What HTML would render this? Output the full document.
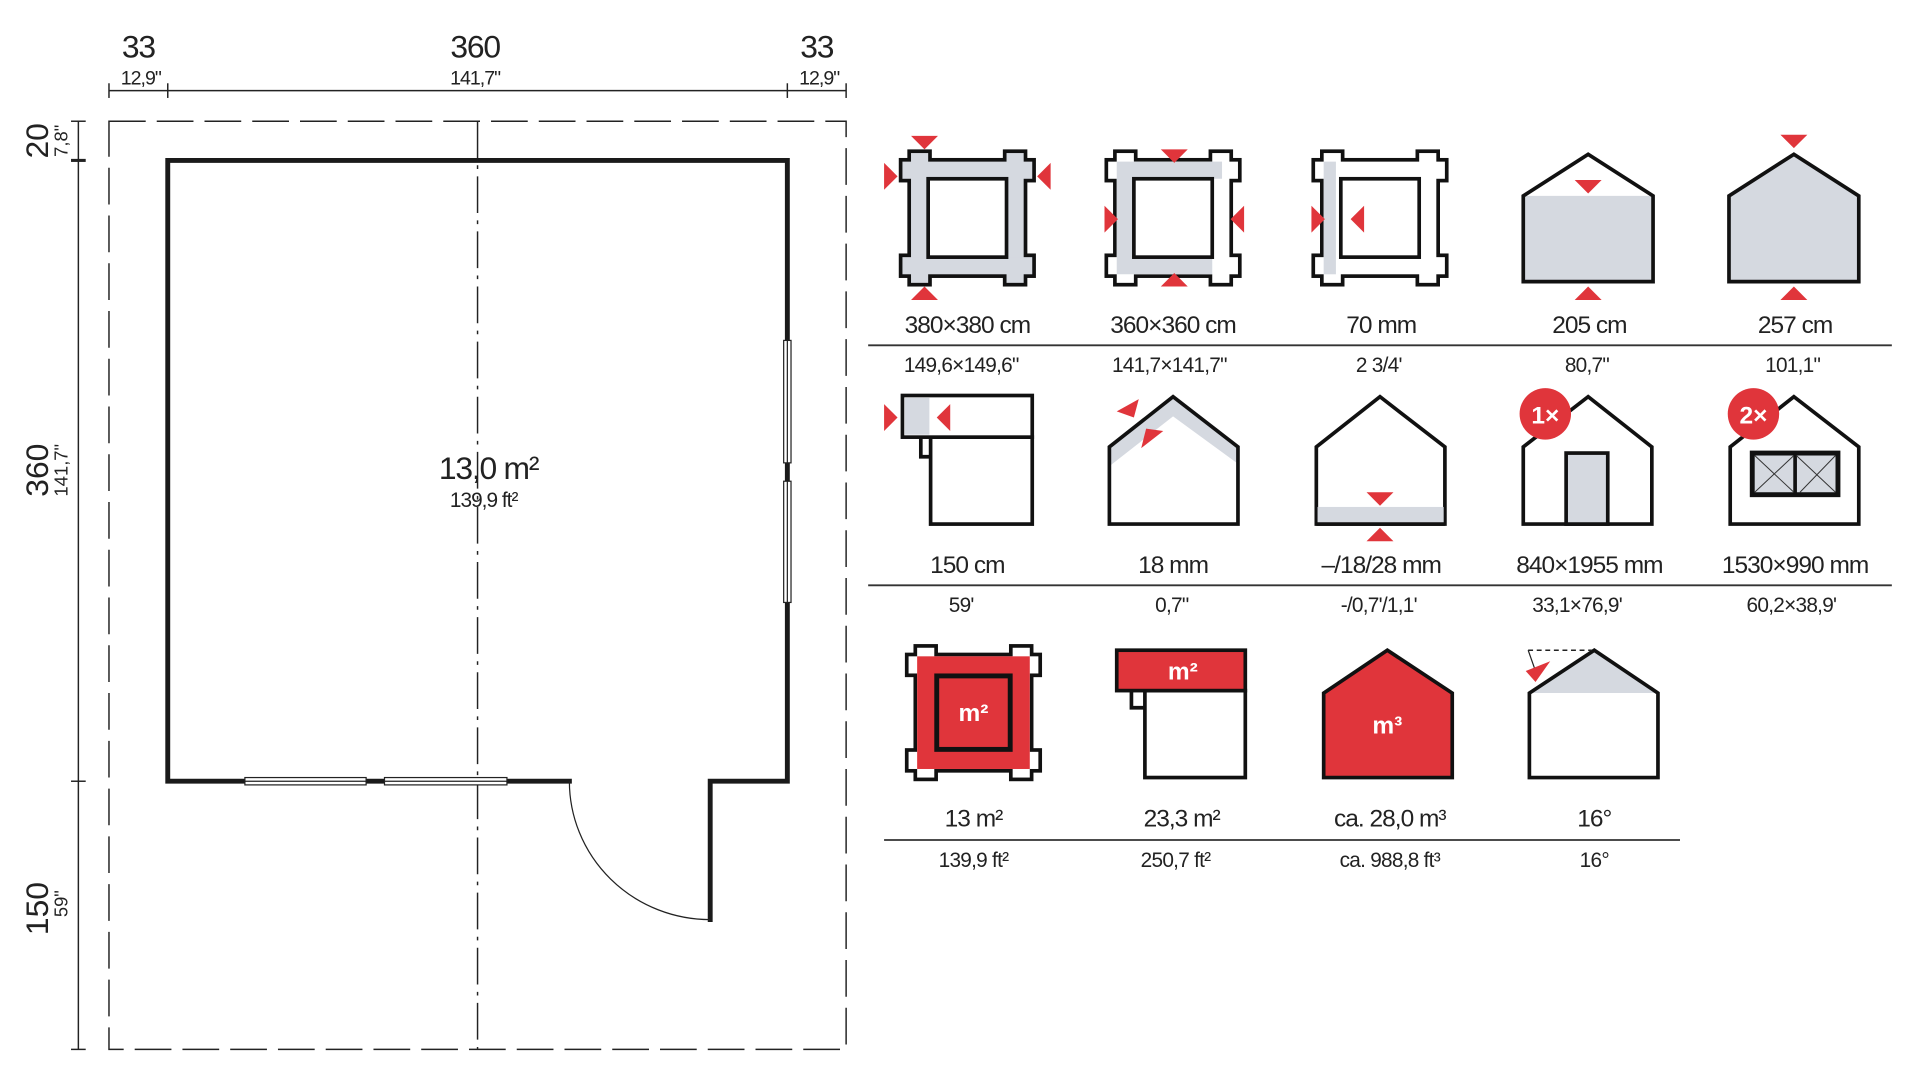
<!DOCTYPE html>
<html><head><meta charset="utf-8"><style>
html,body{margin:0;padding:0;background:#fff;width:1920px;height:1080px;overflow:hidden}
svg{display:block}
text{font-family:"Liberation Sans",sans-serif;fill:#222}
</style></head><body>
<svg width="1920" height="1080" viewBox="0 0 1568 882" xmlns="http://www.w3.org/2000/svg">
<defs>
<g id="beamsS" stroke="#111" stroke-width="6" fill="none">
<rect x="-46" y="-53" width="14" height="106"/><rect x="32" y="-53" width="14" height="106"/>
<rect x="-53" y="-46" width="106" height="14"/><rect x="-53" y="32" width="106" height="14"/>
</g>
<g id="beamsW">
<rect x="-46" y="-53" width="14" height="106"/><rect x="32" y="-53" width="14" height="106"/>
<rect x="-53" y="-46" width="106" height="14"/><rect x="-53" y="32" width="106" height="14"/>
</g>
</defs>
<g stroke="#222" stroke-width="1.2" fill="none">
<line x1="89" y1="74" x2="691" y2="74"/>
<line x1="89" y1="68" x2="89" y2="80"/><line x1="137" y1="68" x2="137" y2="80"/>
<line x1="643" y1="68" x2="643" y2="80"/><line x1="691" y1="68" x2="691" y2="80"/>
<line x1="64" y1="99" x2="64" y2="857"/>
<line x1="58" y1="99" x2="70" y2="99"/><line x1="58" y1="131" x2="70" y2="131" stroke-width="2.5"/>
<line x1="58" y1="638" x2="70" y2="638"/><line x1="58" y1="857" x2="70" y2="857"/>
</g>
<g stroke="#222" stroke-width="1.2" fill="none">
<rect x="89" y="99" width="602" height="758" stroke-dasharray="30,9"/>
<line x1="390" y1="99" x2="390" y2="857" stroke-dasharray="30,6,3,6"/>
</g>
<g stroke="#1a1a1a" stroke-width="4" fill="none" stroke-linecap="square">
<polyline points="465,638 137,638 137,131 643,131 643,638 580,638 580,751"/>
</g>
<g fill="#fff" stroke="#222" stroke-width="1">
<rect x="200" y="635" width="99" height="6"/><line x1="200" y1="638" x2="299" y2="638"/>
<rect x="314" y="635" width="100" height="6"/><line x1="314" y1="638" x2="414" y2="638"/>
<rect x="640" y="278" width="6" height="100"/><line x1="643" y1="278" x2="643" y2="378"/>
<rect x="640" y="393" width="6" height="99"/><line x1="643" y1="393" x2="643" y2="492"/>
</g>
<path d="M465,638 A115,113 0 0 0 580,751" stroke="#222" stroke-width="1" fill="none"/>
<g style="letter-spacing:-1px">
<text x="113" y="47" font-size="26" text-anchor="middle">33</text>
<text x="388" y="47" font-size="26" text-anchor="middle">360</text>
<text x="667" y="47" font-size="26" text-anchor="middle">33</text>
</g>
<g style="letter-spacing:-0.8px">
<text x="115" y="69" font-size="16" text-anchor="middle">12,9"</text>
<text x="388" y="69" font-size="16" text-anchor="middle">141,7"</text>
<text x="669" y="69" font-size="16" text-anchor="middle">12,9"</text>
</g>
<g transform="translate(39,115) rotate(-90)"><text font-size="26" text-anchor="middle">20</text></g>
<g transform="translate(55,115) rotate(-90)"><text font-size="15" text-anchor="middle">7,8"</text></g>
<g transform="translate(39,384) rotate(-90)"><text font-size="26" text-anchor="middle">360</text></g>
<g transform="translate(55,384) rotate(-90)"><text font-size="15" text-anchor="middle">141,7"</text></g>
<g transform="translate(39,742) rotate(-90)"><text font-size="26" text-anchor="middle">150</text></g>
<g transform="translate(55,738) rotate(-90)"><text font-size="15" text-anchor="middle">59"</text></g>
<text x="399" y="391" font-size="26" text-anchor="middle" style="letter-spacing:-1px">13,0 m²</text>
<text x="395" y="414" font-size="17" text-anchor="middle" style="letter-spacing:-0.8px">139,9 ft²</text>

<g transform="translate(790,178)">
<use href="#beamsS"/><use href="#beamsW" fill="#d5d9e0"/>
<rect x="-32" y="-32" width="64" height="64" fill="#fff" stroke="#111" stroke-width="3"/>
</g>
<g transform="translate(958,178)">
<use href="#beamsS"/><use href="#beamsW" fill="#fff"/>
<path d="M-46,-46 H40 V-32 H32 V46 H-46 Z M-32,-32 V32 H32 V-32 Z" fill="#d5d9e0" fill-rule="evenodd"/>
<rect x="-32" y="-32" width="64" height="64" fill="#fff" stroke="#111" stroke-width="3"/>
</g>
<g transform="translate(1127,178)">
<use href="#beamsS"/><use href="#beamsW" fill="#fff"/>
<rect x="-46" y="-46" width="10" height="92" fill="#d5d9e0"/>
<rect x="-32" y="-32" width="64" height="64" fill="#fff" stroke="#111" stroke-width="3"/>
</g>
<path d="M1244,230 V160 H1350 V230 Z" fill="#d5d9e0"/>
<path d="M1244,230 V160 L1297,126 L1350,160 V230 Z" fill="none" stroke="#111" stroke-width="3"/>
<path d="M1412,230 V160 L1465,126 L1518,160 V230 Z" fill="#d5d9e0" stroke="#111" stroke-width="3"/>
<g fill="#e0353b">
<polygon points="744,111 766,111 755,122"/><polygon points="744,245 766,245 755,234"/>
<polygon points="722,133 722,155 733,144"/><polygon points="858,133 858,155 847,144"/>
<polygon points="948,122 970,122 959,133"/><polygon points="948,234 970,234 959,223"/>
<polygon points="902,168 902,190 913,179"/><polygon points="1016,168 1016,190 1005,179"/>
<polygon points="1071,168 1071,190 1082,179"/><polygon points="1114,168 1114,190 1103,179"/>
<polygon points="1286,147 1308,147 1297,158"/><polygon points="1286,245 1308,245 1297,234"/>
<polygon points="1454,110 1476,110 1465,121"/><polygon points="1454,245 1476,245 1465,234"/>
</g>
<g font-size="20" text-anchor="middle" style="letter-spacing:-0.8px">
<text x="790" y="272">380×380 cm</text><text x="958" y="272">360×360 cm</text><text x="1128" y="272">70 mm</text><text x="1298" y="272">205 cm</text><text x="1466" y="272">257 cm</text>
</g>
<line x1="709" y1="282" x2="1545" y2="282" stroke="#333" stroke-width="1.5"/>
<g font-size="17" text-anchor="middle" style="letter-spacing:-0.6px">
<text x="785" y="304">149,6×149,6"</text><text x="955" y="304">141,7×141,7"</text><text x="1126" y="304">2  3/4'</text><text x="1296" y="304">80,7"</text><text x="1464" y="304">101,1"</text>
</g>

<rect x="760" y="357" width="83" height="71" fill="#fff" stroke="#111" stroke-width="3"/>
<path d="M760,373 H752 V357" fill="none" stroke="#111" stroke-width="3"/>
<rect x="737" y="323" width="106" height="34" fill="#fff" stroke="#111" stroke-width="3"/>
<rect x="739" y="325" width="20" height="30" fill="#d5d9e0"/>
<path d="M906,428 V365 L958,324 L1011,365 V428 Z" fill="#fff"/>
<path d="M907,365 L958,324 L1010,365 V378 L958,340 L907,380 Z" fill="#d5d9e0"/>
<path d="M906,428 V365 L958,324 L1011,365 V428 Z" fill="none" stroke="#111" stroke-width="3"/>
<path d="M1075,428 V365 L1127,324 L1180,365 V428 Z" fill="#fff" stroke="#111" stroke-width="3"/>
<rect x="1076" y="414" width="103" height="13" fill="#d5d9e0"/>
<line x1="1075" y1="428" x2="1180" y2="428" stroke="#111" stroke-width="3"/>
<path d="M1244,428 V365 L1297,324 L1349,365 V428 Z" fill="#fff" stroke="#111" stroke-width="3"/>
<rect x="1279" y="370" width="34" height="58" fill="#d5d9e0" stroke="#111" stroke-width="3"/>
<path d="M1413,428 V365 L1465,324 L1518,365 V428 Z" fill="#fff" stroke="#111" stroke-width="3"/>
<rect x="1431" y="370" width="70" height="34" fill="#d5d9e0" stroke="#111" stroke-width="4"/>
<g stroke="#333" stroke-width="0.8"><line x1="1466" y1="370" x2="1466" y2="404" stroke-width="3" stroke="#111"/>
<line x1="1433" y1="372" x2="1465" y2="402"/><line x1="1465" y1="372" x2="1433" y2="402"/>
<line x1="1467" y1="372" x2="1499" y2="402"/><line x1="1499" y1="372" x2="1470" y2="402"/></g>
<g fill="#e0353b">
<polygon points="722,330 722,352 733,341"/><polygon points="776,330 776,352 765,341"/>
<polygon points="930,326 912,336 926,341"/><polygon points="950,352 932,366 936,350"/>
<polygon points="1116,402 1138,402 1127,413"/><polygon points="1116,442 1138,442 1127,431"/>
<circle cx="1262" cy="338" r="21"/><circle cx="1432" cy="338" r="21"/>
</g>
<text x="1262" y="346" font-size="20" font-weight="bold" text-anchor="middle" style="fill:#fff">1×</text>
<text x="1432" y="346" font-size="20" font-weight="bold" text-anchor="middle" style="fill:#fff">2×</text>
<g font-size="20" text-anchor="middle" style="letter-spacing:-0.8px">
<text x="790" y="468">150 cm</text><text x="958" y="468">18 mm</text><text x="1128" y="468">–/18/28 mm</text><text x="1298" y="468">840×1955 mm</text><text x="1466" y="468">1530×990 mm</text>
</g>
<line x1="709" y1="478" x2="1545" y2="478" stroke="#333" stroke-width="1.5"/>
<g font-size="17" text-anchor="middle" style="letter-spacing:-0.6px">
<text x="785" y="500">59'</text><text x="957" y="500">0,7"</text><text x="1126" y="500">-/0,7'/1,1'</text><text x="1288" y="500">33,1×76,9'</text><text x="1463" y="500">60,2×38,9'</text>
</g>

<g transform="translate(795,582)">
<use href="#beamsS"/><use href="#beamsW" fill="#fff"/>
<rect x="-46" y="-46" width="92" height="92" fill="#e0353b"/>
<rect x="-30" y="-30" width="60" height="60" fill="#e0353b" stroke="#111" stroke-width="4"/>
<text x="0" y="7" font-size="20" font-weight="bold" text-anchor="middle" style="fill:#fff">m²</text>
</g>
<rect x="935" y="564" width="82" height="71" fill="#fff" stroke="#111" stroke-width="3"/>
<path d="M935,578 H924 V564" fill="none" stroke="#111" stroke-width="3"/>
<rect x="912" y="531" width="105" height="33" fill="#e0353b" stroke="#111" stroke-width="3"/>
<text x="966" y="555" font-size="20" font-weight="bold" text-anchor="middle" style="fill:#fff">m²</text>
<path d="M1081,635 V566 L1133,531 L1186,566 V635 Z" fill="#e0353b" stroke="#111" stroke-width="3"/>
<text x="1133" y="599" font-size="20" font-weight="bold" text-anchor="middle" style="fill:#fff">m³</text>
<path d="M1249,566 L1302,531 L1354,566 Z" fill="#d5d9e0"/>
<path d="M1249,635 V566 L1302,531 L1354,566 V635 Z" fill="none" stroke="#111" stroke-width="3"/>
<path d="M1248,531 H1300" stroke="#222" stroke-width="1.2" stroke-dasharray="4,3"/>
<path d="M1248,531 L1254,548" stroke="#222" stroke-width="1"/>
<polygon points="1246,548 1266,540 1254,557" fill="#e0353b"/>
<g font-size="20" text-anchor="middle" style="letter-spacing:-0.8px">
<text x="795" y="675">13 m²</text><text x="965" y="675">23,3 m²</text><text x="1135" y="675">ca. 28,0 m³</text><text x="1302" y="675">16°</text>
</g>
<line x1="722" y1="686" x2="1372" y2="686" stroke="#333" stroke-width="1.5"/>
<g font-size="17" text-anchor="middle" style="letter-spacing:-0.6px">
<text x="795" y="708">139,9 ft²</text><text x="960" y="708">250,7 ft²</text><text x="1135" y="708">ca. 988,8 ft³</text><text x="1302" y="708">16°</text>
</g>
</svg>
</body></html>
